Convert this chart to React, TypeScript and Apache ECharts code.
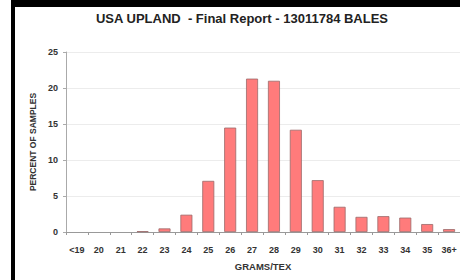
import React, { useEffect, useRef } from "react";
import * as echarts from "echarts";

const categories = ["<19", "20", "21", "22", "23", "24", "25", "26", "27", "28", "29", "30", "31", "32", "33", "34", "35", "36+"];
const percentValues = [0, 0, 0, 0.1, 0.5, 2.4, 7.1, 14.5, 21.3, 21.0, 14.2, 7.2, 3.5, 2.1, 2.2, 2.0, 1.1, 0.4];
const yTicks = [0, 5, 10, 15, 20, 25];
const titleText = "USA UPLAND  - Final Report - 13011784 BALES";
const xName = "GRAMS/TEX";
const yName = "PERCENT OF SAMPLES";

export default function App() {
  const ref = useRef<HTMLDivElement>(null);
  useEffect(() => {
    if (!ref.current) return;
    const chart = echarts.init(ref.current, null, { renderer: "svg" });
    const font = "Liberation Sans, Arial, sans-serif";
    chart.setOption({
      animation: false,
      backgroundColor: "#ffffff",
      title: {
        text: titleText,
        left: 242,
        textAlign: "center",
        top: 12,
        padding: 0,
        textStyle: { fontFamily: font, fontSize: 13, fontWeight: "bold", color: "#222" },
      },
      graphic: [
        { type: "rect", shape: { x: 11, y: 0, width: 449, height: 7 }, style: { fill: "#000" }, silent: true },
        { type: "rect", shape: { x: 11, y: 0, width: 4, height: 280 }, style: { fill: "#000" }, silent: true },
      ],
      grid: { left: 66, right: -2, top: 52, bottom: 48, containLabel: false },
      xAxis: {
        type: "category",
        data: categories,
        name: xName,
        nameLocation: "middle",
        nameGap: 29,
        nameTextStyle: { fontFamily: font, fontSize: 9.5, fontWeight: "bold", color: "#333" },
        axisLine: { lineStyle: { color: "#999", width: 1 } },
        axisTick: { show: true, alignWithLabel: false, length: 3, lineStyle: { color: "#999" } },
        axisLabel: { interval: 0, margin: 13, fontFamily: font, fontSize: 9, fontWeight: "bold", color: "#333" },
      },
      yAxis: {
        type: "value",
        min: yTicks[0],
        max: yTicks[yTicks.length - 1],
        interval: 5,
        name: yName,
        nameLocation: "middle",
        nameGap: 29,
        nameTextStyle: { fontFamily: font, fontSize: 8.5, fontWeight: "bold", color: "#333" },
        axisLine: { show: true, lineStyle: { color: "#aaa", width: 1 } },
        axisTick: { show: true, length: 3, lineStyle: { color: "#aaa" } },
        axisLabel: { margin: 8, fontFamily: font, fontSize: 9, fontWeight: "bold", color: "#333" },
        splitLine: { show: true, lineStyle: { color: "#ececec", width: 1 } },
      },
      series: [
        {
          type: "bar",
          data: percentValues.map((v) => (v === 0 ? { value: v, itemStyle: { borderWidth: 0 } } : v)),
          barWidth: 12,
          itemStyle: { color: "#ff7b7b", borderColor: "#9a6a6a", borderWidth: 0.8 },
        },
      ],
    });
    return () => chart.dispose();
  }, []);
  return <div ref={ref} style={{ position: "absolute", left: 0, top: 0, width: 460, height: 280 }} />;
}
